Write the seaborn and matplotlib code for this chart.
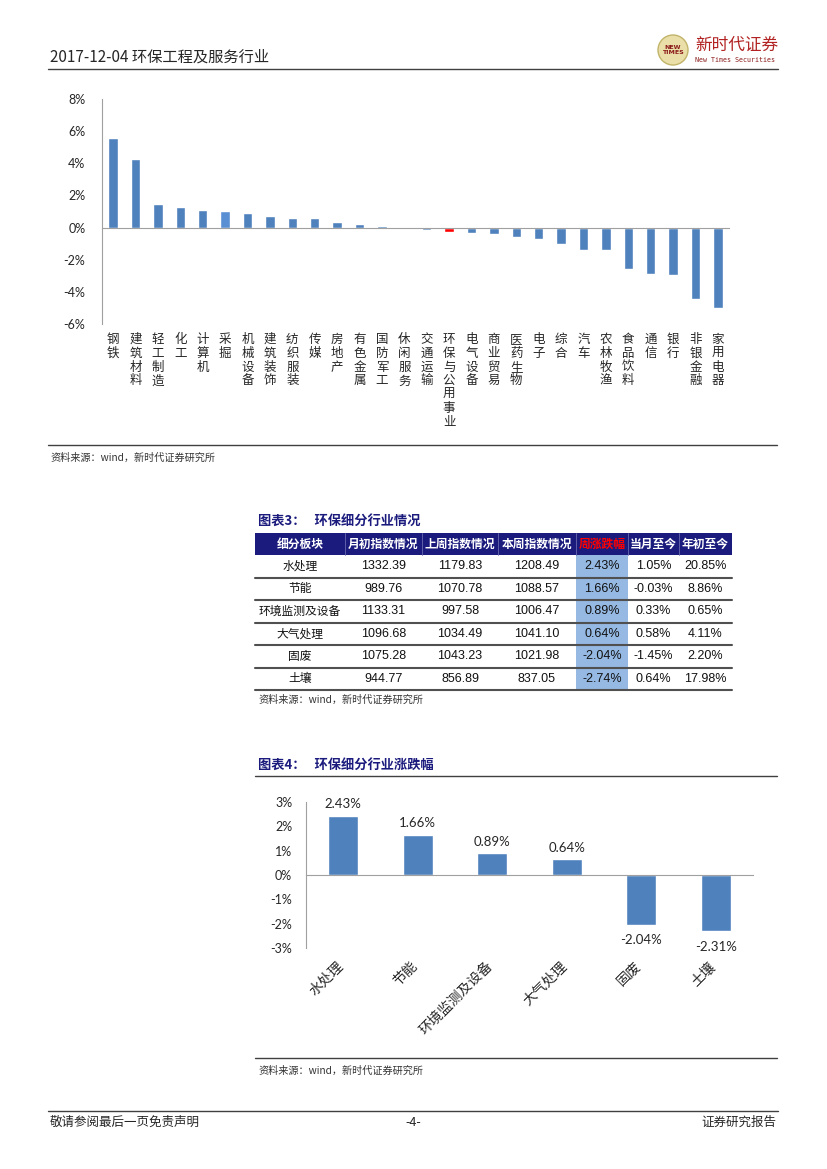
import numpy as np
import pandas as pd
import matplotlib
matplotlib.use('Agg')
import matplotlib.pyplot as plt
import matplotlib.patches as mpatches
import matplotlib.transforms as mtransforms
import seaborn as sns

sns.set_style('white')
plt.rcParams['font.family'] = ['Noto Sans CJK SC', 'DejaVu Sans']
plt.rcParams['axes.unicode_minus'] = False

# ---- data: weekly change of all industries (%)
industries = ['钢铁', '建筑材料', '轻工制造', '化工', '计算机', '采掘', '机械设备', '建筑装饰',
              '纺织服装', '传媒', '房地产', '有色金属', '国防军工', '休闲服务', '交通运输',
              '环保与公用事业', '电气设备', '商业贸易', '医药生物', '电子', '综合', '汽车',
              '农林牧渔', '食品饮料', '通信', '银行', '非银金融', '家用电器']
industry_chg = [5.58, 4.27, 1.47, 1.28, 1.12, 1.05, 0.88, 0.74,
                0.59, 0.57, 0.32, 0.21, 0.10, -0.08, -0.17,
                -0.25, -0.32, -0.38, -0.59, -0.69, -1.01, -1.37,
                -1.41, -2.59, -2.88, -2.95, -4.42, -5.03]
highlight = '环保与公用事业'
lighter = '采掘'

# ---- data: table 3
sub_names = ['水处理', '节能', '环境监测及设备', '大气处理', '固废', '土壤']
month_start = [1332.39, 989.76, 1133.31, 1096.68, 1075.28, 944.77]
last_week = [1179.83, 1070.78, 997.58, 1034.49, 1043.23, 856.89]
this_week = [1208.49, 1088.57, 1006.47, 1041.10, 1021.98, 837.05]
week_chg = [2.43, 1.66, 0.89, 0.64, -2.04, -2.74]
month_chg = [1.05, -0.03, 0.33, 0.58, -1.45, 0.64]
year_chg = [20.85, 8.86, 0.65, 4.11, 2.20, 17.98]
table_cols = ['细分板块', '月初指数情况', '上周指数情况', '本周指数情况', '周涨跌幅', '当月至今', '年初至今']

# ---- data: chart 4
chart4_names = ['水处理', '节能', '环境监测及设备', '大气处理', '固废', '土壤']
chart4_chg = [2.43, 1.66, 0.89, 0.64, -2.04, -2.31]

BLUE = '#4F81BD'
GRAY = '#A0A0A0'
NAVY = '#1B1B7E'
SRC = '资料来源：wind，新时代证券研究所'
W, H = 827, 1169

fig = plt.figure(figsize=(8.27, 11.69), dpi=100)

def px_axes(x0, y0, x1, y1):
    return fig.add_axes([x0 / W, 1 - y1 / H, (x1 - x0) / W, (y1 - y0) / H])

# page layer in pixel coordinates
page = fig.add_axes([0, 0, 1, 1])
page.set_xlim(0, W)
page.set_ylim(H, 0)
page.axis('off')

# header
page.text(50, 57, '2017-12-04 环保工程及服务行业', fontsize=11, va='center', ha='left')
page.plot([48, 778], [69, 69], color='#404040', lw=1)
page.add_patch(mpatches.Circle((673, 50), 15, facecolor='#EADFA8', edgecolor='#C2B46A', lw=1))
page.text(673, 50, 'NEW\nTIMES', fontsize=4.5, color='#8B1A1A', ha='center', va='center',
          fontweight='bold', linespacing=0.9, family='DejaVu Sans')
page.text(695, 45, '新时代证券', fontsize=12, color='#B22222', ha='left', va='center')
page.text(695, 60, 'New Times Securities', fontsize=4.8, color='#8B1A1A', ha='left', va='center',
          family='DejaVu Sans Mono')

# ---- top chart
ax1 = px_axes(102, 99, 729, 324)
colors1 = [('#FF0000' if n == highlight else ('#5B8FD3' if n == lighter else BLUE)) for n in industries]
sns.barplot(x=industries, y=industry_chg, hue=industries, palette=colors1, width=0.42,
            saturation=1, legend=False, ax=ax1)
ax1.set_ylim(-6, 8)
ax1.set_xlim(-0.5, len(industries) - 0.5)
ax1.set_yticks(range(-6, 9, 2))
ax1.set_yticklabels([f'{v}%' for v in range(-6, 9, 2)], fontsize=9, family='Lato')
ax1.spines['top'].set_visible(False)
ax1.spines['right'].set_visible(False)
ax1.spines['left'].set_color(GRAY)
ax1.spines['bottom'].set_color(GRAY)
ax1.spines['bottom'].set_position(('data', 0))
ax1.set_xticks(range(len(industries)))
ax1.set_xticklabels([])
ax1.set_xticks(np.arange(-0.5, len(industries), 1), minor=True)
ax1.tick_params(axis='x', which='major', length=0)
ax1.tick_params(axis='x', which='minor', length=4, color=GRAY, direction='out')
ax1.tick_params(axis='y', length=0, pad=12)
tr1 = mtransforms.blended_transform_factory(ax1.transData, ax1.transAxes)
for i, name in enumerate(industries):
    ax1.text(i, -0.04, '\n'.join(name), transform=tr1, ha='center', va='top',
             fontsize=9, linespacing=1.08)

page.plot([48, 777], [445, 445], color='#404040', lw=1)
page.text(50, 458, SRC, fontsize=7.3, color='#333333', va='center')

# ---- table 3
page.text(258, 521, '图表3：   环保细分行业情况', fontsize=9.5, fontweight='bold', color=NAVY, va='center')
col_x = [255, 345, 422, 498, 576, 628, 679, 732]
row_y = [533, 555, 577.5, 600, 622.5, 645, 667.5, 690]
page.add_patch(mpatches.Rectangle((col_x[0], row_y[0]), col_x[-1] - col_x[0], row_y[1] - row_y[0],
                                  facecolor=NAVY, edgecolor='none'))
page.add_patch(mpatches.Rectangle((col_x[4], row_y[1]), col_x[5] - col_x[4], row_y[-1] - row_y[1],
                                  facecolor='#95B9E3', edgecolor='none'))
for cx in col_x[1:-1]:
    page.plot([cx, cx], [row_y[0], row_y[1]], color='#6A6AB0', lw=0.6)
for j, head in enumerate(table_cols):
    page.text((col_x[j] + col_x[j + 1]) / 2, (row_y[0] + row_y[1]) / 2, head, fontsize=8.5,
              fontweight='bold', color='#FF0000' if head == '周涨跌幅' else 'white',
              ha='center', va='center')
for r, name in enumerate(sub_names):
    cy = (row_y[r + 1] + row_y[r + 2]) / 2
    cells = [name, f'{month_start[r]:.2f}', f'{last_week[r]:.2f}', f'{this_week[r]:.2f}',
             f'{week_chg[r]:.2f}%', f'{month_chg[r]:.2f}%', f'{year_chg[r]:.2f}%']
    for j, c in enumerate(cells):
        page.text((col_x[j] + col_x[j + 1]) / 2, cy, c, ha='center', va='center',
                  fontsize=8.5 if j == 0 else 9, family=None if j == 0 else 'Liberation Sans',
                  color='#111111')
    page.plot([col_x[0], col_x[-1]], [row_y[r + 2], row_y[r + 2]], color='#505050', lw=1.5)

page.text(258, 700, SRC, fontsize=7.3, color='#333333', va='center')

# ---- chart 4
page.text(258, 765, '图表4：   环保细分行业涨跌幅', fontsize=9.5, fontweight='bold', color=NAVY, va='center')
page.plot([255, 777], [776, 776], color='#404040', lw=1)

ax2 = px_axes(306, 802, 753, 948)
sns.barplot(x=chart4_names, y=chart4_chg, color=BLUE, width=0.4, saturation=1, ax=ax2)
ax2.set_ylim(-3, 3)
ax2.set_xlim(-0.5, len(chart4_names) - 0.5)
ax2.set_yticks(range(-3, 4))
ax2.set_yticklabels([f'{v}%' for v in range(-3, 4)], fontsize=9, family='Lato')
ax2.spines['top'].set_visible(False)
ax2.spines['right'].set_visible(False)
ax2.spines['left'].set_color(GRAY)
ax2.spines['bottom'].set_color(GRAY)
ax2.spines['bottom'].set_position(('data', 0))
ax2.set_xticks(range(len(chart4_names)))
ax2.set_xticklabels([])
ax2.set_xticks(np.arange(-0.5, len(chart4_names), 1), minor=True)
ax2.tick_params(axis='x', which='major', length=0)
ax2.tick_params(axis='x', which='minor', length=4, color=GRAY, direction='out')
ax2.tick_params(axis='y', length=4, color=GRAY, direction='out', pad=6)
for i, v in enumerate(chart4_chg):
    ax2.annotate(f'{v:.2f}%', (i, v), xytext=(0, 4 if v > 0 else -7), textcoords='offset points',
                 ha='center', va='bottom' if v > 0 else 'top', fontsize=9.5, family='Lato',
                 color='#262626')
tr2 = mtransforms.blended_transform_factory(ax2.transData, ax2.transAxes)
for i, name in enumerate(chart4_names):
    ax2.text(i - 0.03, -0.11, name, transform=tr2, rotation=45, rotation_mode='anchor',
             ha='right', va='center', fontsize=10)

page.plot([255, 777], [1058, 1058], color='#404040', lw=1)
page.text(258, 1071, SRC, fontsize=7.3, color='#333333', va='center')

# footer
page.plot([48, 778], [1111, 1111], color='#404040', lw=1)
page.text(50, 1122, '敬请参阅最后一页免责声明', fontsize=9, va='center', ha='left')
page.text(413, 1122, '-4-', fontsize=9, va='center', ha='center')
page.text(776, 1122, '证券研究报告', fontsize=9, va='center', ha='right')

fig.savefig('out.png', dpi=100)
